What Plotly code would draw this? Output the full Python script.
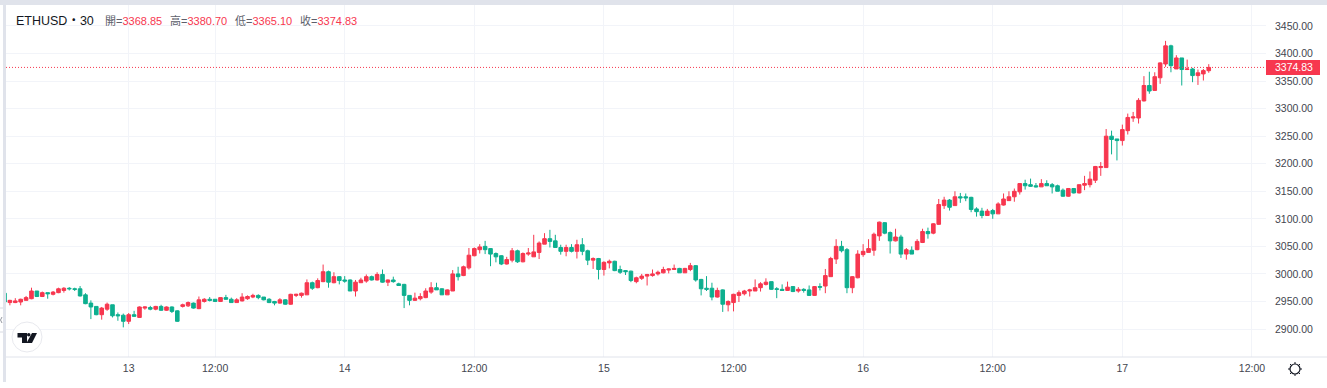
import plotly.graph_objects as go

candle_index = list(range(224))
opens = [2965,2948,2948,2949,2952,2955,2969,2959,2966,2963,2966,2970,2974,2973,2973,2962,2947,2941,2926,2936,2944,2926,2925,2914,2926,2921,2938,2939,2936,2941,2934,2940,2933,2941,2942,2947,2937,2950,2954,2954,2950,2957,2954,2948,2951,2955,2958,2961,2958,2954,2950,2947,2953,2945,2961,2961,2962,2984,2975,2986,3004,
2984,2995,2989,2989,2969,2984,2987,2995,2989,2999,2985,2989,2982,2981,2961,2952,2955,2957,2967,2975,2973,2962,2969,3000,2997,3011,3033,3044,3050,3046,3037,3033,3018,3025,3042,3022,3036,3031,3039,3054,3064,3060,3048,3041,3048,3041,3053,3042,3025,3028,3008,3020,3023,3008,3006,3005,
2986,2992,2996,2997,3000,3002,3007,3008,3010,3002,3008,3015,2990,2974,2974,2958,2971,2944,2948,2961,2964,2969,2969,2975,2981,2986,2973,2972,2970,2977,2969,2972,2971,2961,2977,2978,2995,3027,3050,3044,2975,2993,3035,3039,3043,3069,3093,3075,3060,3067,3036,3043,3044,3057,3077,3074,3090,3124,3134,
3124,3140,3140,3139,3118,3114,3106,3115,3109,3125,3133,3140,3149,3164,3162,3160,3158,3164,3162,3160,3152,3141,3155,3147,3161,3162,3170,3193,3193,3250,3245,3242,3260,3283,3283,3314,3342,3333,3356,3381,3414,3372,3392,3371,3372,3360,3363,3368.85]
highs = [2966,2953,2956,2955,2960,2975,2969,2968,2966,2969,2975,2976,2976,2975,2978,2965,2952,2941,2940,2948,2944,2930,2928,2929,2933,2941,2941,2942,2942,2944,2941,2941,2934,2946,2950,2948,2959,2956,2958,2954,2957,2962,2957,2956,2965,2961,2964,2963,2958,2956,2951,2956,2954,2964,2964,2966,2990,2986,2992,3017,3006,
3003,2996,2996,2990,2989,2993,2999,2997,3003,3008,2990,2995,2984,2982,2961,2966,2965,2974,2985,2984,2974,2972,3007,3013,3015,3047,3048,3054,3060,3047,3039,3034,3031,3047,3044,3039,3047,3071,3059,3074,3080,3071,3053,3053,3054,3062,3065,3044,3030,3029,3023,3026,3024,3015,3007,3006,
2995,3000,3000,3008,3006,3013,3010,3017,3011,3011,3020,3016,2991,2996,2984,2975,2972,2952,2964,2970,2971,2973,2990,2985,2992,2986,2976,2981,2986,2978,2976,2974,2979,2978,2983,3009,3031,3063,3060,3047,2996,3043,3054,3063,3075,3095,3094,3077,3082,3071,3047,3050,3063,3082,3084,3092,3136,3140,3136,
3150,3147,3146,3140,3121,3120,3118,3118,3130,3146,3150,3155,3165,3171,3173,3165,3172,3170,3165,3162,3155,3156,3156,3162,3178,3186,3196,3203,3263,3260,3245,3271,3291,3294,3319,3359,3367,3366,3384,3423,3416,3397,3392,3389,3374,3371,3372,3380.70]
lows = [2947,2943,2947,2943,2952,2954,2958,2958,2955,2961,2965,2966,2970,2969,2959,2945,2918,2925,2917,2933,2921,2915,2903,2909,2922,2920,2935,2934,2934,2933,2933,2929,2913,2939,2940,2937,2936,2948,2950,2949,2949,2953,2948,2948,2950,2953,2956,2954,2952,2947,2943,2946,2944,2944,2958,2957,2962,2971,2974,2985,2975,
2983,2981,2984,2969,2959,2984,2984,2988,2988,2984,2978,2984,2979,2938,2943,2951,2952,2956,2964,2971,2962,2962,2969,2988,2996,3008,3032,3037,3036,3014,3021,3016,3017,3021,3020,3021,3033,3031,3027,3054,3048,3048,3035,3032,3039,3028,3034,3016,3009,2990,2997,3010,3005,3000,2998,2985,
2983,2989,2979,2995,2997,3001,3001,3008,3002,3002,3005,2986,2961,2969,2952,2957,2931,2932,2932,2949,2961,2959,2969,2968,2979,2971,2956,2969,2969,2967,2966,2966,2960,2960,2970,2965,2995,3018,3039,2965,2965,2992,3031,3039,3033,3060,3072,3037,3059,3029,3026,3036,3043,3056,3064,3072,3089,3118,3115,
3124,3129,3132,3112,3104,3101,3106,3100,3109,3124,3133,3131,3144,3153,3158,3157,3158,3160,3146,3150,3140,3140,3146,3146,3152,3157,3165,3178,3193,3217,3206,3233,3253,3276,3273,3313,3327,3332,3345,3376,3366,3372,3342,3370,3348,3343,3351,3365.10]
closes = [2949,2952,2951,2954,2957,2969,2959,2966,2964,2967,2973,2974,2973,2972,2960,2946,2940,2926,2938,2945,2924,2924,2914,2926,2923,2940,2940,2936,2941,2934,2940,2932,2914,2944,2948,2938,2953,2954,2952,2950,2957,2954,2948,2953,2958,2959,2961,2957,2953,2948,2947,2953,2945,2963,2963,2965,2984,2974,2988,3004,2985,
2995,2988,2987,2969,2985,2989,2995,2989,2999,2985,2989,2986,2979,2961,2952,2956,2959,2969,2975,2971,2962,2971,3000,2995,3013,3034,3046,3049,3044,3036,3031,3018,3026,3042,3022,3037,3038,3040,3056,3064,3059,3048,3041,3048,3041,3053,3041,3025,3028,3008,3021,3023,3006,3003,3004,2988,
2993,2996,2999,3000,3003,3008,3009,3010,3002,3010,3015,2989,2973,2972,2958,2970,2945,2950,2963,2966,2969,2971,2975,2982,2985,2972,2972,2970,2976,2968,2972,2970,2961,2977,2976,2997,3028,3050,3042,2975,2995,3036,3041,3046,3072,3094,3074,3060,3067,3036,3044,3036,3059,3077,3073,3091,3126,3134,3121,
3140,3138,3138,3117,3113,3106,3114,3109,3127,3136,3140,3150,3164,3160,3159,3158,3164,3160,3158,3150,3141,3155,3147,3162,3164,3172,3195,3195,3250,3244,3242,3262,3284,3285,3315,3342,3332,3358,3383,3414,3378,3392,3371,3372,3360,3365,3369,3374.83]

price_ticks = [2900,2950,3000,3050,3100,3150,3200,3250,3300,3350,3400,3450]
time_positions = [23,39,63,87,111,135,159,183,207,231]
time_labels = ["13","12:00","14","12:00","15","12:00","16","12:00","17","12:00"]
last_price = 3374.83
header_title = "ETHUSD・30"
header_labels = ["開=","高=","低=","收="]
header_values = ["3368.85","3380.70","3365.10","3374.83"]

W, H = 1327, 388
L, R, T, B = 6, 1266, 5, 357
UP, DOWN = "#f7374f", "#0daf8f"
FONT = "Liberation Sans, 'Noto Sans CJK TC', sans-serif"
def px(x): return (x - L) / (R - L)
def py(y): return (B - y) / (B - T)

fig = go.Figure(go.Candlestick(
    x=candle_index, open=opens, high=highs, low=lows, close=closes,
    increasing=dict(line=dict(color=UP, width=1), fillcolor=UP),
    decreasing=dict(line=dict(color=DOWN, width=1), fillcolor=DOWN),
    whiskerwidth=0, showlegend=False, hoverinfo="skip"))

BAND = "#e0e3eb"
def paper_line(a, b, c, d, color="#131722", w=1):
    return dict(type="line", xref="paper", yref="paper", x0=px(a), x1=px(c), y0=py(b), y1=py(d),
                line=dict(color=color, width=w))
shapes = [
    dict(type="rect", xref="paper", yref="paper", x0=px(0), x1=px(W), y0=py(0), y1=py(5),
         fillcolor=BAND, line_width=0, layer="below"),
    dict(type="rect", xref="paper", yref="paper", x0=px(3), x1=px(6), y0=py(0), y1=py(382),
         fillcolor=BAND, line_width=0, layer="below"),
    paper_line(0, 308, 3, 308, "#d8dae2"),
    paper_line(0, 332, 3, 332, "#d8dae2"),
    paper_line(2, 317, 0.5, 320, "#9598a1"),
    paper_line(0.5, 320, 2, 323, "#9598a1"),
    paper_line(6, 357, 1327, 357, BAND),
    dict(type="line", xref="paper", yref="y", x0=0, x1=1, y0=last_price, y1=last_price,
         line=dict(color=UP, width=1, dash="1px,2px")),
    dict(type="rect", xref="paper", yref="paper", x0=px(1266), x1=px(1320), y0=py(60), y1=py(75),
         fillcolor=UP, line_width=0),
    dict(type="circle", xref="paper", yref="paper", x0=px(12), x1=px(42), y0=py(322), y1=py(352),
         fillcolor="white", line=dict(color="#e8e9ee", width=1)),
    dict(type="circle", xref="paper", yref="paper", x0=px(1290), x1=px(1300), y0=py(364), y1=py(374),
         fillcolor="white", line=dict(color="#131722", width=1.2)),
]
def poly(pts):
    return "M " + " L ".join(f"{px(a):.5f},{py(b):.5f}" for a, b in pts) + " Z"
shapes.append(dict(type="path", xref="paper", yref="paper", line_width=0, fillcolor="#131722",
                   path=poly([(17.5,333),(27,333),(27,343),(22,343),(22,337.5),(17.5,337.5)])))
shapes.append(dict(type="circle", xref="paper", yref="paper", x0=px(27), x1=px(30.5), y0=py(333), y1=py(336.5),
                   fillcolor="#131722", line_width=0))
shapes.append(dict(type="path", xref="paper", yref="paper", line_width=0, fillcolor="#131722",
                   path=poly([(32,333),(37,333),(32,343),(26.5,343)])))
for a, b, c, d in [(1295,362,1295,364),(1295,374,1295,376),(1288,369,1290,369),(1300,369,1302,369),
                   (1290,364,1291.5,365.5),(1300,364,1298.5,365.5),(1290,374,1291.5,372.5),(1300,374,1298.5,372.5)]:
    shapes.append(paper_line(a, b, c, d))

ann = [dict(xref="paper", yref="paper", x=px(14), y=py(21), xanchor="left", yanchor="middle", showarrow=False,
            text=header_title, font=dict(size=12.5, color="#131722", family=FONT)),
       dict(xref="paper", yref="y", x=px(1294), y=last_price, xanchor="center", yanchor="middle", showarrow=False,
            text=f"{last_price:.2f}", font=dict(size=10.5, color="white", family=FONT))]
for xpos, lab, val in zip([103,168,233,298], header_labels, header_values):
    ann.append(dict(xref="paper", yref="paper", x=px(xpos), y=py(21), xanchor="left", yanchor="middle",
                    showarrow=False, font=dict(size=11, family=FONT),
                    text=f"<span style='color:#5d606b'>{lab}</span><span style='color:{UP}'>{val}</span>"))

fig.update_layout(
    width=W, height=H, margin=dict(l=L, r=W-R, t=T, b=H-B), paper_bgcolor="white", plot_bgcolor="white",
    font=dict(family=FONT, size=10.5, color="#43464f"), showlegend=False, shapes=shapes, annotations=ann,
    xaxis=dict(range=[0.28, 233.6], rangeslider=dict(visible=False), tickvals=time_positions, ticktext=time_labels,
               ticks="", showline=False, zeroline=False, showgrid=True, gridcolor="#f2f4f9", gridwidth=1,
               ticklabelstandoff=3, tickfont=dict(size=10.5, color="#43464f")),
    yaxis=dict(range=[2849.2, 3488.1], side="right", tickvals=price_ticks, tickformat=".2f",
               ticks="", showline=False, zeroline=False, showgrid=True, gridcolor="#f2f4f9", gridwidth=1,
               ticklabelstandoff=8, tickfont=dict(size=10.5, color="#43464f")),
    boxgap=0.05,
)
fig.write_html("out.html", config=dict(displayModeBar=False),
               post_script="document.body.style.margin='0';document.body.style.overflow='hidden';")
